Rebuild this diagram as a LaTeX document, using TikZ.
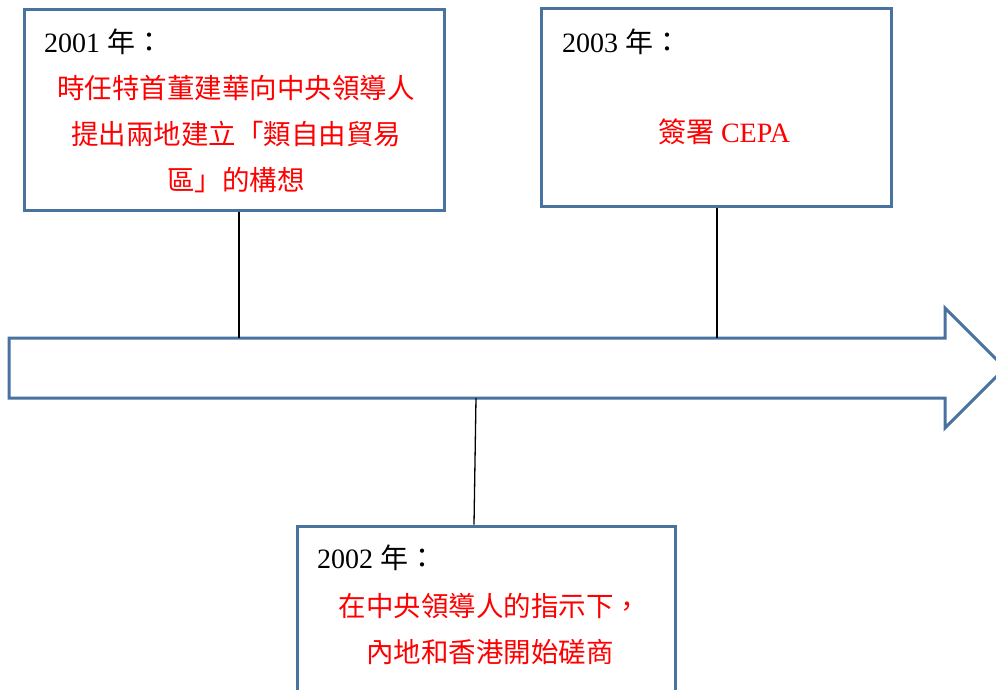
\documentclass[tikz,border=0pt]{standalone}
\usepackage{fontspec}
\setmainfont{Liberation Serif}
\newfontfamily\cjk{Noto Sans CJK TC}
\usetikzlibrary{positioning}

\definecolor{boxblue}{RGB}{72,114,160}

\begin{document}
\begin{tikzpicture}[x=1pt,y=-1pt,
    yearbox/.style={draw=boxblue, line width=3pt, fill=white, inner sep=0pt},
    yeartext/.style={anchor=base west, inner sep=0pt, font=\fontsize{28}{46}\selectfont},
    eventtext/.style={anchor=base, inner sep=0pt, text=red, align=center,
      font=\fontsize{27.5}{46}\selectfont\cjk},
    tick/.style={line width=1.3pt}]
  \useasboundingbox (0,0) rectangle (996,689);
  \clip (0,0) rectangle (996,689);

  % timeline arrow
  \coordinate (tail top) at (9,338);
  \coordinate (tail bot) at (9,398);
  \draw[boxblue, line width=3pt, line join=miter]
    (tail top) -- (945,338) -- (945,308) -- (1005,368) -- (945,428)
    -- (945,398) -- (tail bot) -- cycle;
  \coordinate (t2001) at (239,338);
  \coordinate (t2002) at (476,398);
  \coordinate (t2003) at (717,338);

  % boxes
  \node[yearbox, minimum width=420pt, minimum height=201pt] (y2001) at (234,109.5) {};
  \node[yearbox, minimum width=350pt, minimum height=198pt] (y2003) at (716,107) {};
  \node[yearbox, minimum width=378pt, minimum height=200pt] (y2002) at (486,626) {};

  \draw[tick] ([xshift=5pt]y2001.south) -- (t2001);
  \draw[tick] ([xshift=1pt]y2003.south) -- (t2003);
  \draw[tick] (t2002) -- ([xshift=-12pt]y2002.north);

  % texts (base = last line)
  \node[yeartext] (l2001) at (44,52) {2001 {\cjk 年：}};
  \node[eventtext] (e2001) at (236,190) {時任特首董建華向中央領導人\\提出兩地建立「類自由貿易\\區」的構想};

  \node[yeartext] (l2003) at (562,52) {2003 {\cjk 年：}};
  \node[eventtext, font=\fontsize{28}{46}\selectfont] (e2003) at (724,142) {{\cjk 簽署} CEPA};

  \node[yeartext] (l2002) at (317,568) {2002 {\cjk 年：}};
  \node[eventtext] (e2002) at (490,662) {在中央領導人的指示下，\\內地和香港開始磋商};
\end{tikzpicture}
\end{document}
